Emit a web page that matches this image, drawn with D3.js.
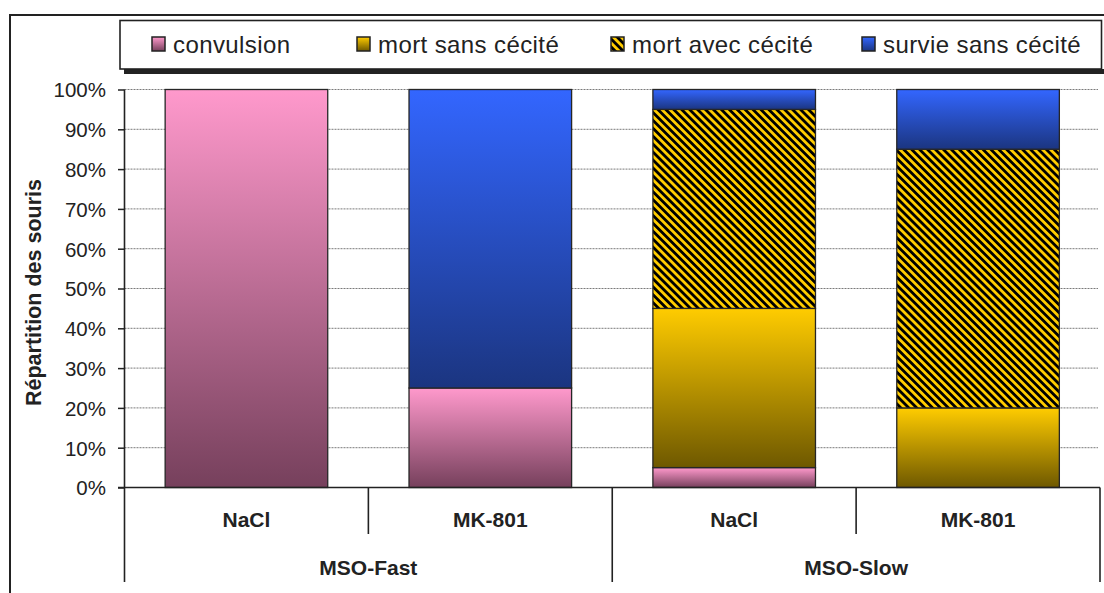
<!DOCTYPE html>
<html><head><meta charset="utf-8">
<script src="https://cdn.jsdelivr.net/npm/d3@7"></script>
<style>body{margin:0;background:#fff;}svg{display:block;font-family:Arial,"Liberation Sans",sans-serif;}</style>
</head><body>
<svg id="c" width="1104" height="593"></svg>
<script>
const categories = ["NaCl","MK-801","NaCl","MK-801"];
const groups = ["MSO-Fast","MSO-Slow"];
const seriesNames = ["convulsion","mort sans cécité","mort avec cécité","survie sans cécité"];
const convulsion = [100,25,5,0];
const mortSans = [0,0,40,20];
const mortAvec = [0,0,50,65];
const survie = [0,75,5,15];
const yTicks = [0,10,20,30,40,50,60,70,80,90,100];

const svg = d3.select("#c");
const defs = svg.append("defs");
const grads = [
  {id:"g0", top:"#ff99cc", bot:"#76405c"},
  {id:"g1", top:"#ffcc00", bot:"#6e5800"},
  null,
  {id:"g3", top:"#3366ff", bot:"#1b3580"}
];
grads.forEach(g=>{ if(!g) return;
  const lg = defs.append("linearGradient").attr("id",g.id).attr("x1",0).attr("y1",0).attr("x2",0).attr("y2",1);
  lg.append("stop").attr("offset","0%").attr("stop-color",g.top);
  lg.append("stop").attr("offset","100%").attr("stop-color",g.bot);
});
const pat = defs.append("pattern").attr("id","hatch").attr("patternUnits","userSpaceOnUse")
  .attr("width",5.6).attr("height",5.6).attr("patternTransform","rotate(-45)");
pat.append("rect").attr("width",5.6).attr("height",5.6).attr("fill","#ffcc00");
pat.append("rect").attr("width",2.8).attr("height",5.6).attr("fill","#000");
const fills = ["url(#g0)","url(#g1)","url(#hatch)","url(#g3)"];

// outer frame
svg.append("path").attr("d","M10,593 V15 H1104").attr("fill","none").attr("stroke","#222").attr("stroke-width",2);

const x0 = 124.5, x1 = 1100, yTop = 89.5, yBot = 487.5;
const x = d3.scaleBand().domain(d3.range(categories.length)).range([x0,x1]).paddingInner(1/3).paddingOuter(1/6);
const step = x.step();
const y = d3.scaleLinear().domain([0,100]).range([yBot,yTop]);

// gridlines
svg.append("g").selectAll("line").data(yTicks.filter(d=>d>0)).join("line")
  .attr("x1",x0).attr("x2",1098).attr("y1",d=>y(d)).attr("y2",d=>y(d))
  .attr("stroke","#7a7a7a").attr("stroke-width",1).attr("stroke-dasharray","2,1");

// bars
const rows = categories.map((c,i)=>({i, s0:convulsion[i], s1:mortSans[i], s2:mortAvec[i], s3:survie[i]}));
const stack = d3.stack().keys(["s0","s1","s2","s3"])(rows);
stack.forEach((layer,k)=>{
  svg.append("g").selectAll("rect").data(layer.filter(d=>d[1]-d[0]>0)).join("rect")
    .attr("x",d=>x(d.data.i)).attr("width",x.bandwidth())
    .attr("y",d=>y(d[1])).attr("height",d=>y(d[0])-y(d[1]))
    .attr("fill",fills[k]).attr("stroke","#262626").attr("stroke-width",1.3);
});

// y axis
const ya = svg.append("g").attr("transform",`translate(${x0},0)`)
  .call(d3.axisLeft(y).tickValues(yTicks).tickSize(6.5).tickPadding(12).tickFormat(d=>d+"%"));
ya.select(".domain").remove();
ya.selectAll(".tick line").attr("stroke","#222").attr("stroke-width",1.5);
ya.selectAll(".tick text").attr("font-size",20.5).attr("fill","#222").attr("font-family","Arial, 'Liberation Sans', sans-serif").attr("dy","0.36em");
svg.append("line").attr("x1",x0).attr("x2",x0).attr("y1",yTop).attr("y2",582).attr("stroke","#222").attr("stroke-width",1.6);
// x axis line
svg.append("line").attr("x1",118).attr("x2",x1).attr("y1",yBot).attr("y2",yBot).attr("stroke","#222").attr("stroke-width",1.6);
// category separators
d3.range(1, categories.length+1).forEach(k=>{
  const xx = x0 + k*step;
  const long = (k % 2 === 0);
  svg.append("line").attr("x1",xx).attr("x2",xx).attr("y1",yBot).attr("y2",long?582:534)
    .attr("stroke","#222").attr("stroke-width",1.6);
});
// category labels
svg.append("g").selectAll("text").data(categories).join("text")
  .attr("x",(d,i)=>x0+(i+0.5)*step).attr("y",527).attr("text-anchor","middle")
  .attr("font-size",21).attr("font-weight","bold").attr("fill","#222").text(d=>d);
svg.append("g").selectAll("text").data(groups).join("text")
  .attr("x",(d,i)=>x0+(i*2+1)*step).attr("y",575).attr("text-anchor","middle")
  .attr("font-size",21).attr("font-weight","bold").attr("fill","#222").text(d=>d);

// y title
svg.append("text").attr("transform","translate(41,292.5) rotate(-90)").attr("text-anchor","middle")
  .attr("font-size",21.5).attr("font-weight","bold").attr("fill","#222").text("Répartition des souris");

// legend
svg.append("rect").attr("x",124).attr("y",69).attr("width",982).attr("height",5).attr("fill","#222");
svg.append("rect").attr("x",120).attr("y",20.5).attr("width",981.5).attr("height",48.5).attr("fill","#fff").attr("stroke","#222").attr("stroke-width",1.6);
const legX = [173, 378, 632, 883];
const lg = svg.append("g").selectAll("g").data(seriesNames).join("g");
lg.append("rect").attr("x",(d,i)=>legX[i]-21).attr("y",37).attr("width",13).attr("height",14)
  .attr("fill",(d,i)=>fills[i]).attr("stroke","#222").attr("stroke-width",1.5);
lg.append("text").attr("x",(d,i)=>legX[i]).attr("y",53).attr("font-size",24).attr("letter-spacing","0.4px").attr("fill","#222").text(d=>d);
</script>
</body></html>
